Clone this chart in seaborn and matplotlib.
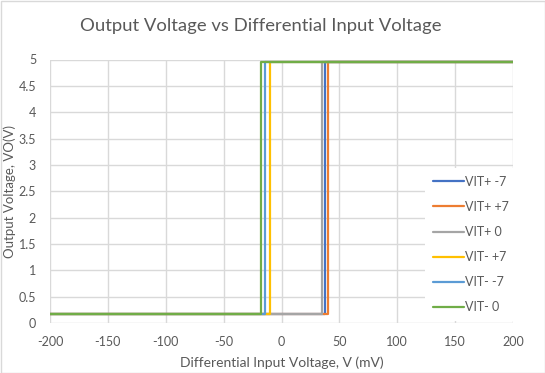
import matplotlib
matplotlib.use("Agg")
import matplotlib.pyplot as plt
import seaborn as sns
import pandas as pd
from matplotlib.patches import Rectangle

# Data
series_names = ["VIT+ -7", "VIT+ +7", "VIT+ 0", "VIT- +7", "VIT- -7", "VIT- 0"]
switch_mv = [37.9, 40.2, 35.2, -9.6, -14.5, -17.4]
x_start = -200
x_end = 200
v_low = 0.17
v_high = 4.95
colors = ["#4472C4", "#ED7D31", "#A5A5A5", "#FFC000", "#5B9BD5", "#70AD47"]
x_ticks = [-200, -150, -100, -50, 0, 50, 100, 150, 200]
y_ticks = [0, 0.5, 1, 1.5, 2, 2.5, 3, 3.5, 4, 4.5, 5]
y_tick_labels = ["0", "0.5", "1", "1.5", "2", "2.5", "3", "3.5", "4", "4.5", "5"]

rows = []
for name, xs in zip(series_names, switch_mv):
    for x, y in [(x_start, v_low), (xs, v_low), (xs, v_high), (x_end, v_high)]:
        rows.append({"x": x, "y": y, "series": name})
df = pd.DataFrame(rows)

sns.set_theme(style="white")
plt.rcParams["font.family"] = ["Lato", "DejaVu Sans"]
plt.rcParams["axes.unicode_minus"] = False
txt = "#595959"

fig = plt.figure(figsize=(5.45, 3.73), dpi=100)
ax = fig.add_axes([50/545, 1-323/373, (513-50)/545, (323-59.5)/373])

sns.lineplot(data=df, x="x", y="y", hue="series", hue_order=series_names,
             palette=colors, sort=False, estimator=None, linewidth=1.6, ax=ax)

ax.set_xlim(-200, 200)
ax.set_ylim(0, 5)
ax.set_xticks(x_ticks)
ax.set_xticklabels([str(v) for v in x_ticks])
ax.set_yticks(y_ticks)
ax.set_yticklabels(y_tick_labels)
ax.grid(True, color="#D9D9D9", linewidth=1)
ax.set_axisbelow(True)
for s in ax.spines.values():
    s.set_visible(False)
ax.tick_params(axis="both", length=0, labelsize=9, colors=txt)
ax.tick_params(axis="x", pad=9)
ax.tick_params(axis="y", pad=10)
ax.set_xlabel("Differential Input Voltage, V (mV)", fontsize=10, color=txt)
ax.set_ylabel("Output Voltage, VO(V)", fontsize=9.5, color=txt)
ax.xaxis.set_label_coords(282/545, 1-363/373, transform=fig.transFigure)
ax.yaxis.set_label_coords(10/545, 1-191/373, transform=fig.transFigure)
ax.xaxis.label.set_va("center")
ax.yaxis.label.set_va("center")

fig.text(261/545, 1-26/373, "Output Voltage vs Differential Input Voltage",
         ha="center", va="center", fontsize=13.3, color=txt)

leg = ax.legend(loc="center left", bbox_to_anchor=(425/545, 1-244.5/373),
                bbox_transform=fig.transFigure, frameon=True, fontsize=9,
                handlelength=2.5, handletextpad=0.1, labelspacing=1.05,
                borderaxespad=0, borderpad=0.6, fancybox=False)
leg.get_frame().set_facecolor("white")
leg.get_frame().set_edgecolor("none")
leg.get_frame().set_alpha(1)
for t in leg.get_texts():
    t.set_color(txt)

fig.patches.append(Rectangle((0.5/545, 0.5/373), 1-1/545, 1-1/373, transform=fig.transFigure,
                             fill=False, edgecolor="#D9D9D9", linewidth=1))

fig.savefig("out.png", dpi=100)
